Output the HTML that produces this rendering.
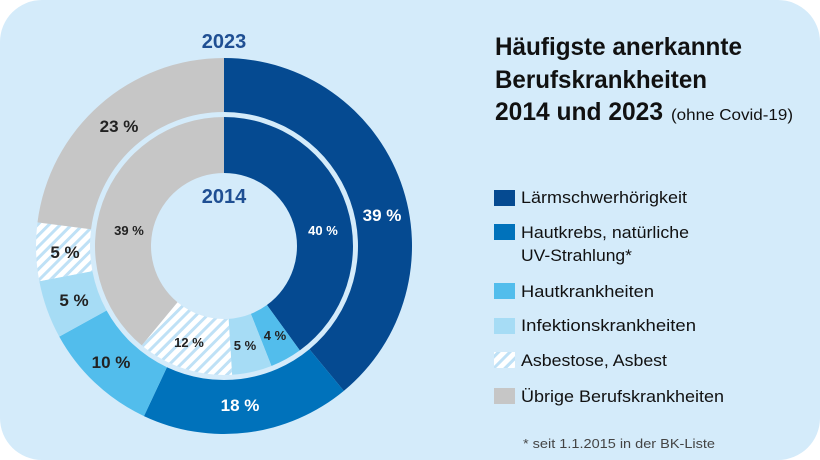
<!DOCTYPE html>
<html><head><meta charset="utf-8"><style>
html,body{margin:0;padding:0;background:#fff;}
svg{display:block;font-family:"Liberation Sans",sans-serif;}
</style></head><body>
<svg id="s" width="820" height="460" viewBox="0 0 820 460" xmlns="http://www.w3.org/2000/svg">
<defs>
<pattern id="h" patternUnits="userSpaceOnUse" width="8" height="8" patternTransform="rotate(45)">
<rect width="8" height="8" fill="#ffffff"/><rect width="3" height="8" fill="#bfe1f6"/>
</pattern>
</defs>
<rect x="0" y="0" width="820" height="460" rx="42" fill="#d4ebfa"/>
<g id="g"></g>
<g font-weight="bold" fill="#1f4f93" font-size="20" text-anchor="middle">
<text x="224" y="48">2023</text>
<text x="224" y="203">2014</text>
</g>
<g font-weight="bold" font-size="17" text-anchor="middle" fill="#222">
<text x="382" y="221" fill="#fff">39 %</text>
<text x="240" y="411" fill="#fff">18 %</text>
<text x="111" y="368">10 %</text>
<text x="74" y="306">5 %</text>
<text x="65" y="258">5 %</text>
<text x="119" y="132">23 %</text>
</g>
<g font-weight="bold" font-size="13" text-anchor="middle" fill="#222">
<text x="323" y="235" fill="#fff">40 %</text>
<text x="275" y="340">4 %</text>
<text x="245" y="350">5 %</text>
<text x="189" y="347">12 %</text>
<text x="129" y="235">39 %</text>
</g>
<g font-weight="bold" font-size="25" fill="#111">
<text x="495" y="55" textLength="247" lengthAdjust="spacingAndGlyphs">Häufigste anerkannte</text>
<text x="495" y="88" textLength="212" lengthAdjust="spacingAndGlyphs">Berufskrankheiten</text>
<text x="495" y="120" textLength="168" lengthAdjust="spacingAndGlyphs">2014 und 2023</text>
</g>
<text x="671" y="120" font-size="16" fill="#111" textLength="122" lengthAdjust="spacingAndGlyphs">(ohne Covid-19)</text>
<rect x="494" y="190" width="21" height="16" fill="#054a91"/>
<rect x="494" y="224" width="21" height="16" fill="#0072bb"/>
<rect x="494" y="283" width="21" height="16" fill="#52bdec"/>
<rect x="494" y="318" width="21" height="16" fill="#a6dcf5"/>
<rect x="494" y="352" width="21" height="16" fill="url(#h)"/>
<rect x="494" y="388" width="21" height="16" fill="#c6c6c6"/>
<g font-size="17" fill="#111">
<text x="521" y="203" textLength="166" lengthAdjust="spacingAndGlyphs">Lärmschwerhörigkeit</text>
<text x="521" y="238" textLength="168" lengthAdjust="spacingAndGlyphs">Hautkrebs, natürliche</text>
<text x="521" y="261" textLength="111" lengthAdjust="spacingAndGlyphs">UV-Strahlung*</text>
<text x="521" y="297" textLength="133" lengthAdjust="spacingAndGlyphs">Hautkrankheiten</text>
<text x="521" y="331" textLength="175" lengthAdjust="spacingAndGlyphs">Infektionskrankheiten</text>
<text x="521" y="366" textLength="146" lengthAdjust="spacingAndGlyphs">Asbestose, Asbest</text>
<text x="521" y="402" textLength="203" lengthAdjust="spacingAndGlyphs">Übrige Berufskrankheiten</text>
</g>
<text x="523" y="448" font-size="13" fill="#444" textLength="192" lengthAdjust="spacingAndGlyphs">* seit 1.1.2015 in der BK-Liste</text>
</svg>
<script>
var cx=224,cy=246,NS="http://www.w3.org/2000/svg",g=document.getElementById("g");
function pt(r,f){var a=f*2*Math.PI;return [cx+r*Math.sin(a),cy-r*Math.cos(a)];}
function arc(r0,r1,f0,f1,fill){
 var la=(f1-f0)>0.5?1:0,a=pt(r1,f0),b=pt(r1,f1),c=pt(r0,f1),d=pt(r0,f0);
 var p=document.createElementNS(NS,"path");
 p.setAttribute("d","M"+a+"A"+r1+","+r1+" 0 "+la+" 1 "+b+"L"+c+"A"+r0+","+r0+" 0 "+la+" 0 "+d+"Z");
 p.setAttribute("fill",fill);g.appendChild(p);}
function ring(r0,r1,vals){var s=0;vals.forEach(function(v){arc(r0,r1,s,s+v[0]/100,v[1]);s+=v[0]/100;});}
ring(134,188,[[39,"#054a91"],[18,"#0072bb"],[10,"#52bdec"],[5,"#a6dcf5"],[5,"url(#h)"],[23,"#c6c6c6"]]);
ring(73,129,[[40,"#054a91"],[4,"#52bdec"],[5,"#a6dcf5"],[12,"url(#h)"],[39,"#c6c6c6"]]);
</script>
</body></html>
